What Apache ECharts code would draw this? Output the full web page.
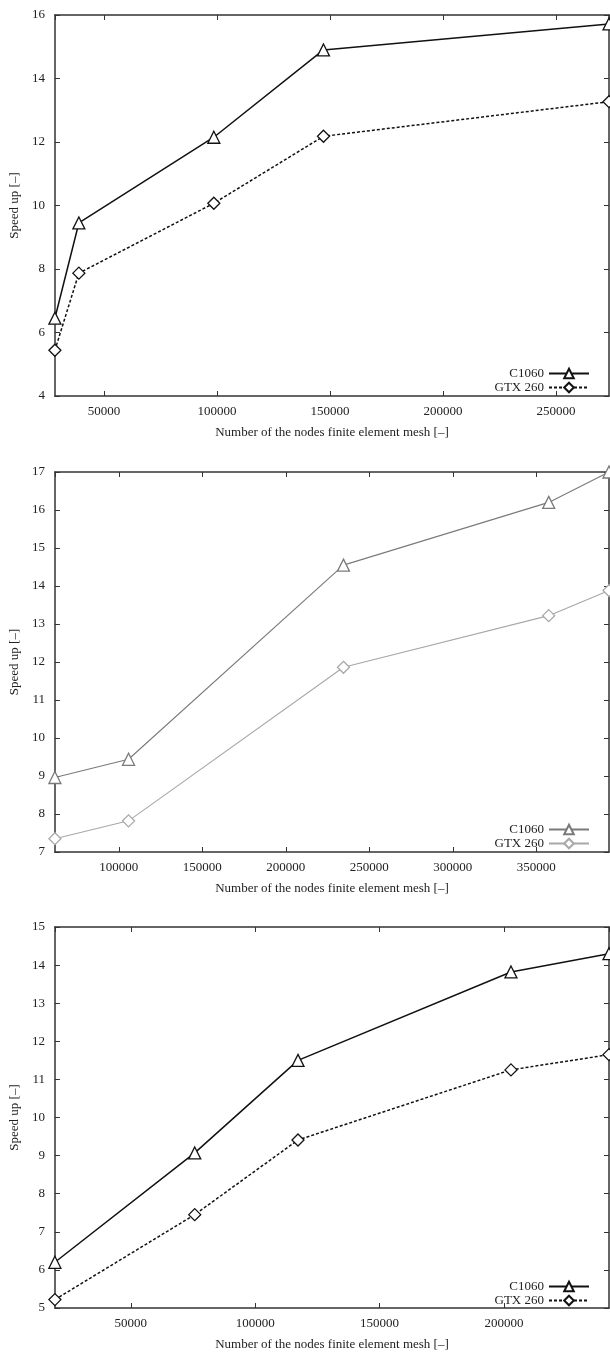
<!DOCTYPE html>
<html>
<head>
<meta charset="utf-8">
<script src="https://cdn.jsdelivr.net/npm/echarts@6/dist/echarts.min.js"></script>
<style>
html,body{margin:0;padding:0;background:#fff;}
#chart{width:610px;height:1356px;}
</style>
</head>
<body>
<div id="chart"></div>
<script>
// ---- data ----
const seriesNames = ['C1060', 'GTX 260'];
const xs1 = [28300, 38900, 98600, 147100, 273400];
const c1060_1 = [6.45, 9.45, 12.15, 14.9, 15.72];
const gtx_1 = [5.44, 7.87, 10.07, 12.18, 13.27];
const xs2 = [61700, 105800, 234500, 357400, 393500];
const c1060_2 = [8.96, 9.44, 14.55, 16.2, 17.0];
const gtx_2 = [7.35, 7.82, 11.86, 13.22, 13.88];
const xs3 = [19500, 75700, 117200, 202800, 242200];
const c1060_3 = [6.2, 9.07, 11.5, 13.82, 14.3];
const gtx_3 = [5.22, 7.45, 9.41, 11.25, 11.65];
const yRange1 = [4, 16, 2];
const yRange2 = [7, 17, 1];
const yRange3 = [5, 15, 1];
const xTitle = 'Number of the nodes finite element mesh [–]';
const yTitle = 'Speed up [–]';

// ---- layout / style ----
const FONT = '"Liberation Serif", "DejaVu Serif", serif';
const TXT = '#222';
const AX = '#333';
const panels = [
  {xs: xs1, a: c1060_1, b: gtx_1, y: yRange1, top: 15, h: 381, legTop: 362,
   colA: '#111', colB: '#111', dashB: [3, 2], lw: 1.5},
  {xs: xs2, a: c1060_2, b: gtx_2, y: yRange2, top: 472, h: 380, legTop: 818,
   colA: '#7a7a7a', colB: '#a8a8a8', dashB: 'solid', lw: 1.1},
  {xs: xs3, a: c1060_3, b: gtx_3, y: yRange3, top: 927, h: 381, legTop: 1275,
   colA: '#111', colB: '#111', dashB: [3, 2], lw: 1.5}
];

const grid = [], xAxis = [], yAxis = [], series = [], legend = [];
panels.forEach((p, i) => {
  grid.push({left: 52, top: p.top, width: 557, height: p.h, show: false});
  const xmin = Math.min(...p.xs), xmax = Math.max(...p.xs);
  const common = {
    type: 'value', gridIndex: i, min: xmin, max: xmax, splitNumber: 5,
    splitLine: {show: false},
    axisLine: {show: true, lineStyle: {color: AX, width: 1.5}},
    axisTick: {show: true, inside: true, length: 5, lineStyle: {color: AX}}
  };
  xAxis.push(Object.assign({}, common, {
    position: 'bottom',
    name: xTitle, nameLocation: 'middle', nameGap: 30,
    nameTextStyle: {fontFamily: FONT, fontSize: 13, color: TXT},
    axisLabel: {show: true, fontFamily: FONT, fontSize: 13, color: TXT, margin: 9,
      showMinLabel: false, showMaxLabel: false,
      formatter: v => (v % 50000 === 0 ? String(v) : '')}
  }));
  xAxis.push(Object.assign({}, common, {
    position: 'top', axisLabel: {show: false}
  }));
  const ycommon = {
    type: 'value', gridIndex: i, min: p.y[0], max: p.y[1], interval: p.y[2],
    splitLine: {show: false},
    axisLine: {show: true, lineStyle: {color: AX, width: 1.5}},
    axisTick: {show: true, inside: true, length: 5, lineStyle: {color: AX}}
  };
  yAxis.push(Object.assign({}, ycommon, {
    position: 'left',
    name: yTitle, nameLocation: 'middle', nameGap: 29, nameRotate: 90,
    nameTextStyle: {fontFamily: FONT, fontSize: 13, color: TXT},
    axisLabel: {show: true, fontFamily: FONT, fontSize: 13, color: TXT, margin: 10}
  }));
  yAxis.push(Object.assign({}, ycommon, {
    position: 'right', axisLabel: {show: false}
  }));
  const nA = seriesNames[0] + '|' + i, nB = seriesNames[1] + '|' + i;
  series.push({
    name: nA, type: 'line', xAxisIndex: 2 * i, yAxisIndex: 2 * i,
    data: p.xs.map((x, k) => [x, p.a[k]]),
    symbol: 'triangle', symbolSize: 12, clip: false,
    lineStyle: {color: p.colA, width: p.lw, type: 'solid'},
    itemStyle: {color: '#fff', borderColor: p.colA, borderWidth: 1.3},
    emphasis: {disabled: true}, animation: false
  });
  series.push({
    name: nB, type: 'line', xAxisIndex: 2 * i, yAxisIndex: 2 * i,
    data: p.xs.map((x, k) => [x, p.b[k]]),
    symbol: 'diamond', symbolSize: 12, clip: false,
    lineStyle: {color: p.colB, width: p.lw, type: p.dashB},
    itemStyle: {color: '#fff', borderColor: p.colB, borderWidth: 1.3},
    emphasis: {disabled: true}, animation: false
  });
  legend.push({
    data: [nA, nB], orient: 'vertical', align: 'right',
    right: 15, top: p.legTop, itemWidth: 40, itemHeight: 12, itemGap: 1,
    selectedMode: false,
    formatter: n => n.split('|')[0],
    textStyle: {fontFamily: FONT, fontSize: 13, color: TXT}
  });
});

const chart = echarts.init(document.getElementById('chart'), null, {renderer: 'canvas'});
chart.setOption({animation: false, backgroundColor: '#fff', grid, xAxis, yAxis, series, legend});
</script>
</body>
</html>
